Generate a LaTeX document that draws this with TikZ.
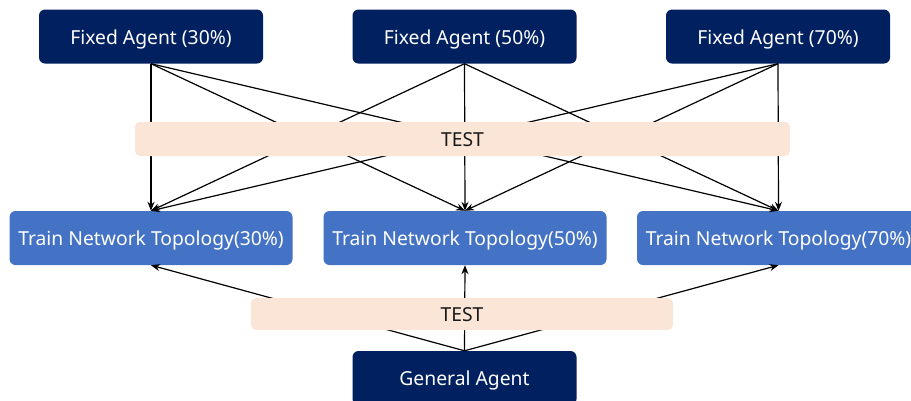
\documentclass[tikz,border=0pt]{standalone}
\usepackage{fontspec}
\setmainfont{Noto Sans}
\usetikzlibrary{arrows.meta}
\definecolor{navy}{HTML}{002060}
\definecolor{midblue}{HTML}{4472C4}
\definecolor{peach}{HTML}{FBE5D6}
\begin{document}
\begin{tikzpicture}[x=1pt,y=-1pt,
  box/.style={rounded corners=6pt, minimum height=54pt, inner sep=0pt,
    text height=15pt, text depth=0pt,
    font=\fontsize{19.3}{22}\selectfont, text=white},
  fixedbox/.style={box, fill=navy, minimum width=224pt},
  trainbox/.style={box, fill=midblue, minimum width=283pt},
  testbar/.style={fill=peach, rounded corners=5pt, inner sep=0pt,
    text height=15pt, text depth=0pt,
    font=\fontsize{19.3}{22}\selectfont, text=black!90},
  conn/.style={-{Stealth[length=9pt,width=7pt]}, line width=1.2pt}]
\useasboundingbox (0,0) rectangle (911,400);
\node[fixedbox] (f30) at (151,36.5) {Fixed Agent (30\%)};
\node[fixedbox] (f50) at (464.5,36.5) {Fixed Agent (50\%)};
\node[fixedbox] (f70) at (778,36.5) {Fixed Agent (70\%)};
\node[trainbox] (t30) at (151,238) {Train Network Topology(30\%)};
\node[trainbox] (t50) at (465,238) {Train Network Topology(50\%)};
\node[trainbox] (t70) at (778.5,238) {Train Network Topology(70\%)};
\node[fixedbox] (ga) at (464.5,378) {General Agent};
\foreach \s in {f30,f50,f70}{
  \foreach \t in {t30,t50,t70}{
    \draw[conn] (\s.south) -- (\t.north);
  }
}
\foreach \t in {t30,t50,t70}{
  \draw[conn] (ga.north) -- (\t.south);
}
\node[testbar, minimum width=655pt, minimum height=34pt] (test1) at (462.5,139) {TEST};
\node[testbar, minimum width=422pt, minimum height=32pt] (test2) at (462,314) {TEST};
\end{tikzpicture}
\end{document}
